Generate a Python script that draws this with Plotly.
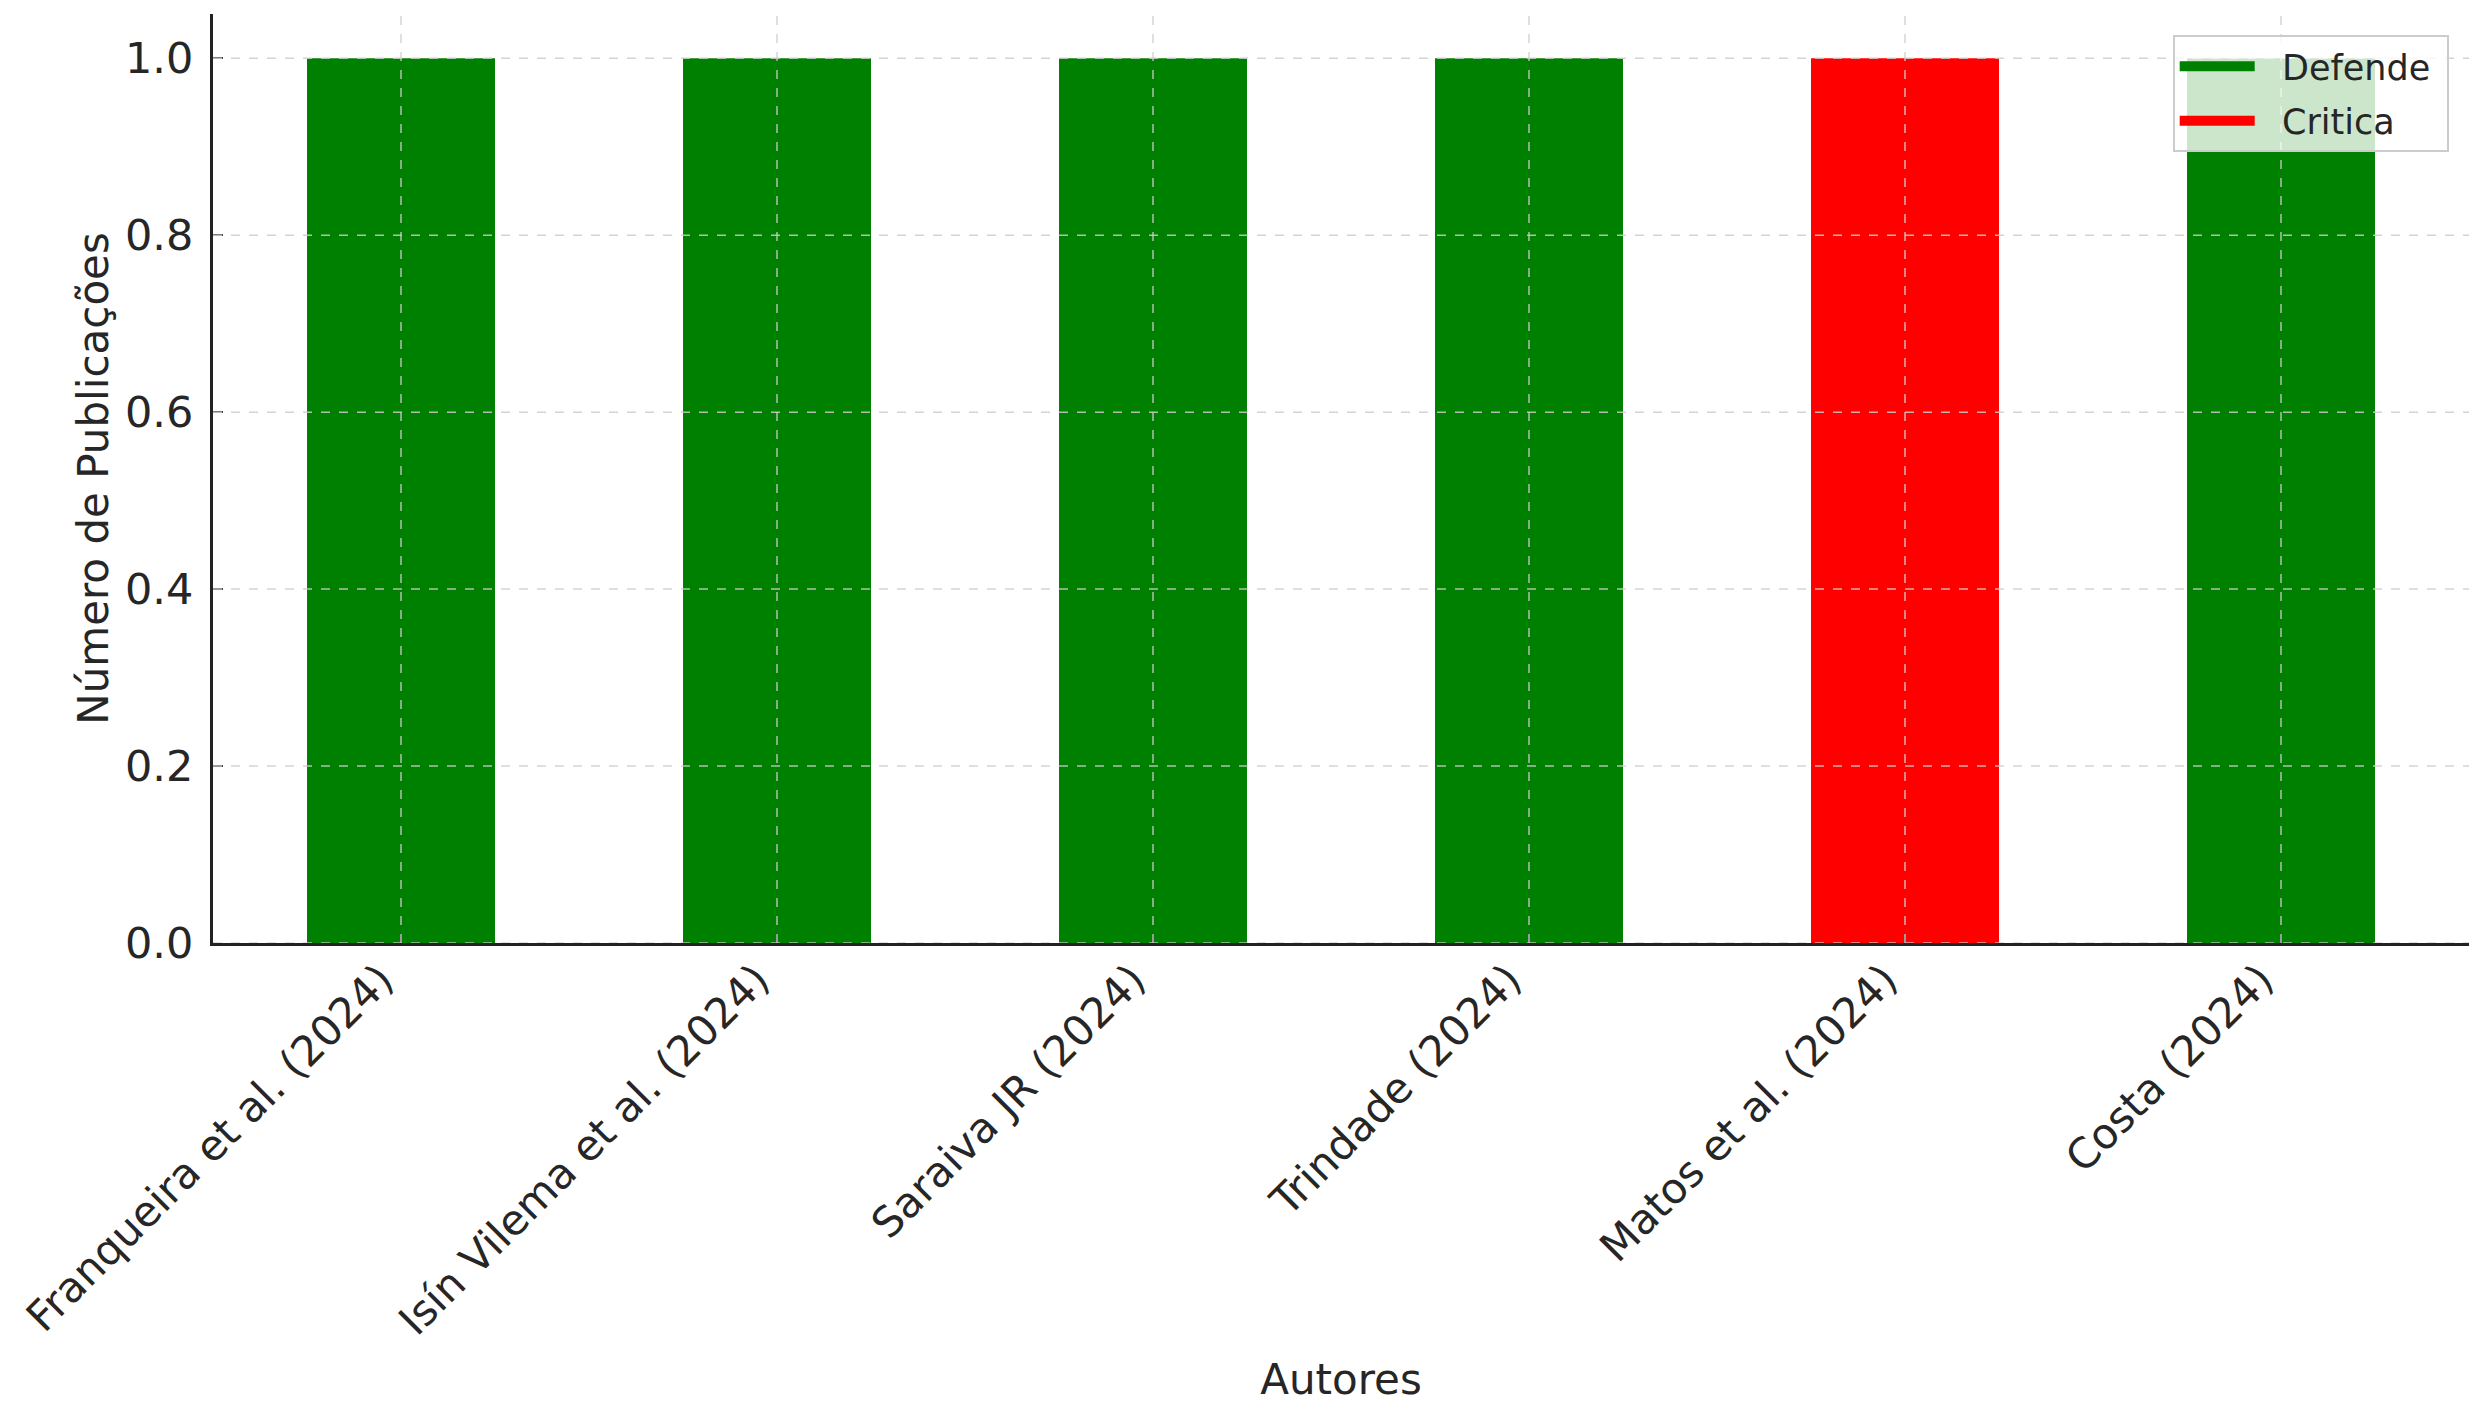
import plotly.graph_objects as go

# dados
autores = [
    "Franqueira et al. (2024)",
    "Isín Vilema et al. (2024)",
    "Saraiva JR (2024)",
    "Trindade (2024)",
    "Matos et al. (2024)",
    "Costa (2024)",
]
publicacoes = [1, 1, 1, 1, 1, 1]
posicao = ["Defende", "Defende", "Defende", "Defende", "Critica", "Defende"]

cores = {"Defende": "#008000", "Critica": "#ff0000"}
y_ticks = [0.0, 0.2, 0.4, 0.6, 0.8, 1.0]

FONT = "DejaVu Sans"
TXT = "#262626"

fig = go.Figure()

for grupo in ["Defende", "Critica"]:
    xs = [a for a, p in zip(autores, posicao) if p == grupo]
    ys = [v for v, p in zip(publicacoes, posicao) if p == grupo]
    fig.add_trace(go.Bar(x=xs, y=ys, name=grupo, width=0.5, showlegend=False,
                         marker=dict(color=cores[grupo], line=dict(width=0))))
    # entrada de legenda com retangulo largo, estilo matplotlib
    fig.add_trace(go.Scatter(x=[None], y=[None], mode="lines",
                             name="\u00a0\u00a0" + grupo + "\u00a0",
                             legendgroup=grupo,
                             line=dict(color=cores[grupo], width=10)))

# grid tracejado por cima das barras (como no original)
grid = dict(color="rgba(205,205,205,0.85)", width=1.5, dash="dash")
for v in y_ticks:
    fig.add_hline(y=v, line=grid, layer="above")
for a in autores:
    fig.add_vline(x=a, line=grid, layer="above")

# a pagina tem 8px de margem no body -> margens compensadas
fig.update_layout(
    width=2477, height=1410,
    barmode="overlay",
    plot_bgcolor="white",
    paper_bgcolor="white",
    font=dict(family=FONT, size=42, color=TXT),
    margin=dict(l=205, r=16, t=6, b=475, autoexpand=False),
    legend=dict(
        x=0.9910, y=0.9774, xanchor="right", yanchor="top",
        bgcolor="rgba(255,255,255,0.8)",
        bordercolor="#cccccc", borderwidth=2,
        font=dict(size=35, color=TXT),
        itemwidth=75,
        tracegroupgap=6,
    ),
    showlegend=True,
)

fig.update_xaxes(
    type="category",
    categoryorder="array", categoryarray=autores,
    range=[-0.5, 5.5],
    tickangle=-45,
    tickfont=dict(size=42),
    ticklabelshift=-20,
    ticklabelstandoff=-8,
    showgrid=False,
    showline=True, linecolor="#222222", linewidth=3,
    ticks="inside", ticklen=10, tickwidth=2, tickcolor="#444444",
    title=dict(text="Autores", font=dict(size=42), standoff=22),
)
fig.update_yaxes(
    range=[0, 1.05],
    tickvals=y_ticks, tickformat=".1f",
    tickfont=dict(size=43),
    ticklabelstandoff=8,
    showgrid=False, zeroline=False,
    showline=True, linecolor="#222222", linewidth=3,
    ticks="inside", ticklen=10, tickwidth=2, tickcolor="#444444",
    title=dict(text="Número de Publicações", font=dict(size=42), standoff=4),
)

fig.write_html("out.html")
